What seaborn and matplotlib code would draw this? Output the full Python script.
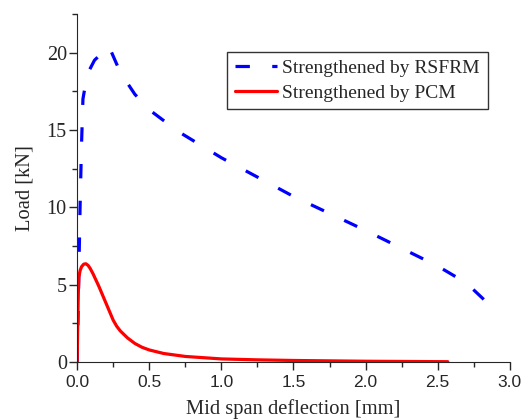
import matplotlib
matplotlib.use('Agg')
import matplotlib.pyplot as plt
import pandas as pd
import seaborn as sns
from matplotlib.ticker import MultipleLocator

# curva RSFRM
defl_rsfrm = [0.0, 0.01, 0.02, 0.03, 0.04, 0.07, 0.12, 0.22, 0.30, 0.40, 0.50, 0.70,
              1.00, 1.50, 2.00, 2.50, 2.70, 2.87]
load_rsfrm = [0.0, 5.0, 10.0, 14.0, 17.0, 18.6, 19.5, 20.4, 18.7, 17.3, 16.3, 14.9,
              13.2, 10.7, 8.5, 6.2, 5.1, 3.6]

# curva PCM
defl_pcm = [0.0, 0.004, 0.008, 0.012, 0.02, 0.03, 0.045, 0.06, 0.075, 0.09, 0.11, 0.13,
            0.15, 0.175, 0.20, 0.225, 0.25, 0.275, 0.30, 0.35, 0.40, 0.45, 0.50, 0.60,
            0.75, 1.00, 1.25, 1.50, 2.00, 2.57]
load_pcm = [0.0, 2.5, 4.5, 5.5, 5.9, 6.15, 6.32, 6.35, 6.25, 6.05, 5.7, 5.3,
            4.9, 4.35, 3.8, 3.25, 2.7, 2.3, 2.0, 1.55, 1.2, 0.95, 0.78, 0.55,
            0.36, 0.2, 0.14, 0.1, 0.05, 0.02]

df1 = pd.DataFrame({'x': defl_rsfrm, 'y': load_rsfrm})
df2 = pd.DataFrame({'x': defl_pcm, 'y': load_pcm})

sns.set_style('ticks')
plt.rcParams['font.family'] = ['Liberation Serif', 'DejaVu Serif']

fig = plt.figure(figsize=(5.25, 4.19), dpi=100)
ax = fig.add_axes([0.147, 0.136, 0.824, 0.831])

sns.lineplot(data=df1, x='x', y='y', ax=ax, color='#0000ff', linewidth=2.3,
             dashes=False, label='Strengthened by RSFRM')
ax.lines[-1].set_dashes((4.5, 7))
sns.lineplot(data=df2, x='x', y='y', ax=ax, color='#ff0000', linewidth=2.3,
             label='Strengthened by PCM')

ax.set_xlim(0, 3.0)
ax.set_ylim(0, 22.5)
ax.xaxis.set_major_locator(MultipleLocator(0.5))
ax.xaxis.set_minor_locator(MultipleLocator(0.25))
ax.yaxis.set_major_locator(MultipleLocator(5))
ax.yaxis.set_minor_locator(MultipleLocator(2.5))
ax.tick_params(which='major', direction='out', length=5.5, width=1)
ax.tick_params(which='minor', direction='out', length=3.5, width=1)
ax.tick_params(axis='y', labelsize=14.5, pad=2)
ax.tick_params(axis='x', labelsize=12.5)
for lab in ax.get_xticklabels():
    lab.set_family('Liberation Sans')
sns.despine(ax=ax)

ax.set_xlabel('Mid span deflection [mm]', fontsize=14.8, labelpad=7)
ax.set_ylabel('Load [kN]', fontsize=14.8, labelpad=9)

leg = ax.legend(loc='upper right', bbox_to_anchor=(0.949, 0.891), fontsize=14,
                frameon=True, fancybox=False, edgecolor='black', handlelength=2.2,
                borderpad=0.4, labelspacing=0.35, handletextpad=0.25, borderaxespad=0)
leg.get_frame().set_linewidth(1)

fig.savefig('out.png', dpi=100)
